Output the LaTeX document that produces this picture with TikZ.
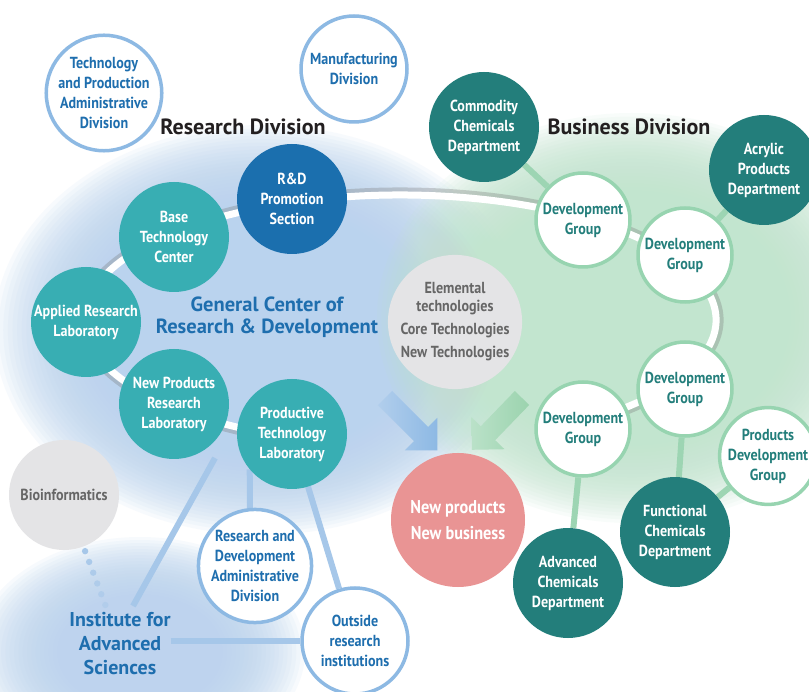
\documentclass[tikz,border=0pt]{standalone}
\usepackage{fontspec}
\setmainfont{PT Sans}
\newfontfamily\condf{PT Sans}[FakeStretch=0.88]
\newfontfamily\titlef{PT Sans}
\usetikzlibrary{calc}
\pgfdeclarelayer{bg}
\pgfdeclarelayer{conn}
\pgfsetlayers{bg,conn,main}
\definecolor{bgblue}{HTML}{BAD3EE}
\definecolor{bggreen}{HTML}{C2E5CF}
\definecolor{rdblue}{HTML}{1B6FAE}
\definecolor{tealc}{HTML}{38AEB3}
\definecolor{bizteal}{HTML}{237E7B}
\definecolor{outblue}{HTML}{8DB9E3}
\definecolor{txtblue}{HTML}{1E6EAE}
\definecolor{outgreen}{HTML}{97D4B0}
\definecolor{txtteal}{HTML}{237E7B}
\definecolor{graycirc}{HTML}{E4E4E6}
\definecolor{graytxt}{HTML}{666666}
\definecolor{pinkc}{HTML}{E99494}
\definecolor{lineblue}{HTML}{A6C7E9}
\definecolor{linegreen}{HTML}{9DD5B3}
\definecolor{titlec}{HTML}{231F20}
\definecolor{arrblue}{HTML}{8DB9E4}
\definecolor{arrgreen}{HTML}{9BD3AE}
\tikzset{
  circ/.style={circle, inner sep=0pt, minimum size=#1, align=center,
    font=\condf\bfseries\fontsize{16}{20}\selectfont},
  rdnode/.style={fill=rdblue, text=white},
  tealnode/.style={fill=tealc, text=white},
  biznode/.style={fill=bizteal, text=white},
  bout/.style={draw=outblue, line width=3.5pt, fill=white, text=txtblue},
  gout/.style={draw=outgreen, line width=3.5pt, fill=white, text=txtteal},
  blueline/.style={draw=lineblue, line width=6pt},
  greenline/.style={draw=linegreen, line width=6pt},
  titletext/.style={font=\titlef\bfseries\fontsize{22}{24}\selectfont, text=titlec, inner sep=0pt},
  bigblue/.style={font=\titlef\bfseries\fontsize{20.5}{22}\selectfont, text=txtblue, align=center, inner sep=0pt}
}
\begin{document}
\begin{tikzpicture}[x=1pt,y=-1pt]
\useasboundingbox (0,0) rectangle (809,692);
\begin{pgfonlayer}{bg}
\fill[white] (0,0) rectangle (809,692);
\foreach \k in {0,...,29}{
  \pgfmathsetmacro\s{1-0.5*\k/29}
  \fill[bgblue, opacity=0.1] (262,330) ellipse [x radius=268*\s, y radius=205*\s];
}
\foreach \k in {0,...,19}{
  \pgfmathsetmacro\s{1-0.5*\k/19}
  \fill[bgblue, opacity=0.1] (140,652) ellipse [x radius=165*\s, y radius=115*\s];
}
\foreach \k in {0,...,29}{
  \pgfmathsetmacro\s{1-0.5*\k/29}
  \fill[bggreen, opacity=0.1] (632,318) ellipse [x radius=255*\s, y radius=205*\s];
}
\end{pgfonlayer}

% research-side nodes
\node[circ=106, bout] (tpad) at (104,93) {Technology\\and Production\\Administrative\\Division};
\node[circ=106, bout] (manuf) at (354,69) {Manufacturing\\Division};
\node[circ=110, rdnode] (rdprom) at (292,199) {R\&D\\Promotion\\Section};
\node[circ=110, tealnode] (base) at (174,237) {Base\\Technology\\Center};
\node[circ=110, tealnode] (applied) at (86,322) {Applied Research\\Laboratory};
\node[circ=110, tealnode] (newprod) at (174,404) {New Products\\Research\\Laboratory};
\node[circ=110, tealnode] (prodtech) at (292,434) {Productive\\Technology\\Laboratory};
\node[circ=110, fill=graycirc, text=graytxt] (bioinf) at (64,495) {Bioinformatics};
\node[bigblue, font=\titlef\bfseries\fontsize{20}{24}\selectfont] (inst) at (120,644) {Institute for\\Advanced\\Sciences};
\node[circ=106, bout] (rdadmin) at (255,566) {Research and\\Development\\Administrative\\Division};
\node[circ=106, bout] (outside) at (355,641) {Outside\\research\\institutions};
\node[bigblue] (gcrd) at (267,317) {General Center of\\Research \& Development};

% business-side nodes
\node[circ=110, biznode] (commodity) at (484,127) {Commodity\\Chemicals\\Department};
\node[circ=110, biznode] (acrylic) at (764,170) {Acrylic\\Products\\Department};
\node[circ=110, biznode] (functional) at (675,532) {Functional\\Chemicals\\Department};
\node[circ=110, biznode] (advanced) at (568,583) {Advanced\\Chemicals\\Department};
\node[circ=94, gout] (dev1) at (583,220) {Development\\Group};
\node[circ=94, gout] (dev2) at (685,255) {Development\\Group};
\node[circ=94, gout] (dev3) at (685,389) {Development\\Group};
\node[circ=94, gout] (dev4) at (583,429) {Development\\Group};
\node[circ=94, gout] (pdg) at (768,456) {Products\\Development\\Group};

% center
\node[circ=134, fill=graycirc, text=graytxt, font=\condf\bfseries\fontsize{16}{18}\selectfont] (core) at (455,322) {Elemental\\technologies\\[5pt]Core Technologies\\[5pt]New Technologies};
\node[circ=134, fill=pinkc, text=white, font=\condf\bfseries\fontsize{18.5}{26}\selectfont] (newbiz) at (458,520) {New products\\New business};

% connectors (layer behind nodes)
\begin{pgfonlayer}{conn}
\coordinate (ringc) at (400,320);
\draw[black!55, opacity=0.3, line width=9pt] (ringc) ++(110:319 and 128) arc[start angle=110, end angle=414, x radius=319, y radius=128];
\draw[white, line width=7pt] (ringc) ++(110:316 and 125) arc[start angle=110, end angle=414, x radius=316, y radius=125];
\coordinate (instup) at (133,606);
\coordinate (gcfoot) at (215,458);
\draw[blueline] (instup) -- (gcfoot);
\draw[blueline] (outside.west -| inst.east) -- (outside.west);
\draw[blueline] (prodtech.220) -- (rdadmin.95);
\draw[blueline] (prodtech) -- (outside);
\foreach \i in {0,...,5}{
  \pgfmathsetmacro\dd{60+11.5*\i}
  \pgfmathsetmacro\op{1-0.1*\i}
  \fill[lineblue, opacity=\op] ($(bioinf)!\dd pt!(inst)$) circle (3.2);
}
\draw[greenline] (commodity) -- (dev1);
\draw[greenline] (acrylic) -- (dev2);
\draw[greenline] (dev4) -- (advanced);
\draw[greenline] (dev3) -- (functional);
\draw[greenline] (functional) -- (pdg);
\end{pgfonlayer}

% arrows
\begin{scope}[shift={(385,398)}, rotate=-45]
  \shade[left color=bgblue!80!arrblue, right color=arrblue] (0,-10) -- (51,-10) -- (51,-23) -- (74,0) -- (51,23) -- (51,10) -- (0,10) -- cycle;
\end{scope}
\begin{scope}[shift={(522,398)}, rotate=-134]
  \shade[left color=bggreen!80!arrgreen, right color=arrgreen] (0,-10) -- (49,-10) -- (49,-23) -- (72,0) -- (49,23) -- (49,10) -- (0,10) -- cycle;
\end{scope}

% titles
\node[titletext] (resdiv) at (243,127) {Research Division};
\node[titletext] (busdiv) at (629,127) {Business Division};
\end{tikzpicture}
\end{document}
